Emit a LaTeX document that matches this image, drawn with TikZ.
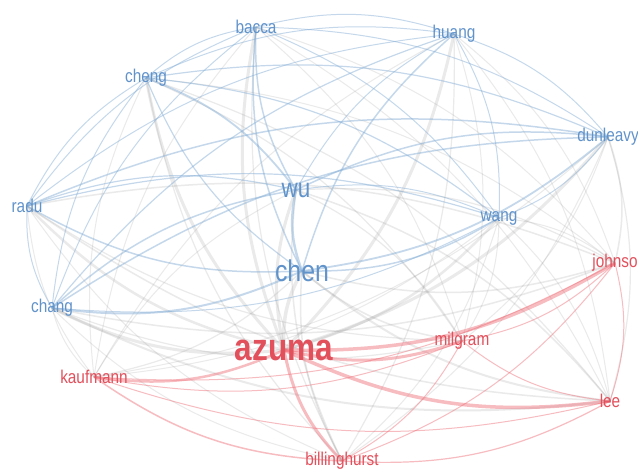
\documentclass[tikz,border=0pt]{standalone}
\usepackage{fontspec}
\setmainfont{Liberation Sans}[FakeStretch=0.83]
\usetikzlibrary{calc,backgrounds}
\definecolor{vosblue}{HTML}{6193CB}
\definecolor{vosred}{HTML}{E2505C}
\definecolor{blueline}{HTML}{7FAAD4}
\definecolor{redline}{HTML}{EE6B75}
\definecolor{greyline}{HTML}{8C8C8C}

\tikzset{
  lab/.style={inner sep=0pt, font=\fontsize{18.5}{20}\selectfont},
  bluelab/.style={lab, text=vosblue},
  redlab/.style={lab, text=vosred},
  blueedge/.style={draw=blueline, draw opacity=0.45},
  rededge/.style={draw=redline, draw opacity=0.45},
  greyedge/.style={draw=greyline, draw opacity=0.18},
}

\begin{document}
\begin{tikzpicture}[x=1pt, y=-1pt]
\useasboundingbox (0,0) rectangle (638,471);
\coordinate (mapmid) at (320,244);

% blue cluster
\node[bluelab] (bacca) at (256,27) {bacca};
\node[bluelab] (cheng) at (146,78) {cheng};
\node[bluelab] (huang) at (454,34) {huang};
\node[bluelab] (dunleavy) at (608,137) {dunleavy};
\node[bluelab] (radu) at (27,206) {radu};
\node[bluelab, font=\fontsize{27}{29}\selectfont] (wu) at (296,190) {wu};
\node[bluelab] (wang) at (499,218) {wang};
\node[bluelab, font=\fontsize{30}{32}\selectfont] (chen) at (302,271) {chen};
\node[bluelab] (chang) at (52,308) {chang};

% red cluster
\node[redlab] (johnso) at (615,263) {johnso};
\node[redlab] (milgram) at (462,341) {milgram};
\node[redlab, font=\fontsize{38}{40}\selectfont\bfseries] (azuma) at (284,350) {azuma};
\node[redlab] (kaufmann) at (94,377) {kaufmann};
\node[redlab] (lee) at (610,401) {lee};
\node[redlab] (billinghurst) at (342,461) {billinghurst};

\begin{scope}[on background layer]
\fill[white] (0,0) rectangle (638,471);
% links between clusters
\foreach \a/\b/\w in {bacca/azuma/3, cheng/azuma/3, huang/azuma/3, dunleavy/azuma/3,
    radu/azuma/2.5, wu/azuma/3, wang/azuma/2.5, chen/azuma/3.5, chang/azuma/3,
    bacca/johnso/1, bacca/milgram/1, bacca/kaufmann/1, bacca/lee/1, bacca/billinghurst/1.2,
    cheng/johnso/1, cheng/milgram/1.2, cheng/kaufmann/1, cheng/lee/1.2, cheng/billinghurst/1.2,
    huang/johnso/1, huang/milgram/1, huang/kaufmann/1, huang/lee/1, huang/billinghurst/1.2,
    dunleavy/johnso/1.5, dunleavy/milgram/1, dunleavy/kaufmann/1, dunleavy/lee/1.2, dunleavy/billinghurst/1,
    radu/johnso/1.5, radu/milgram/1.2, radu/kaufmann/1, radu/lee/1.5, radu/billinghurst/1,
    wu/johnso/1.2, wu/milgram/1.2, wu/kaufmann/1, wu/lee/1.5, wu/billinghurst/1.5,
    wang/johnso/1, wang/milgram/1, wang/kaufmann/1, wang/lee/1, wang/billinghurst/1,
    chen/johnso/1.5, chen/milgram/1.5, chen/kaufmann/1.2, chen/lee/2, chen/billinghurst/1.5,
    chang/johnso/1.5, chang/milgram/1.2, chang/kaufmann/1, chang/lee/2, chang/billinghurst/1}
  \draw[greyedge, line width=\w pt] let \p1=(\a.center), \p2=(\b.center), \p3=(mapmid),
    \n1={16*sign(((\x2-\x1)/100)*((\y1+\y2)/2-\y3)/100-((\y2-\y1)/100)*((\x1+\x2)/2-\x3)/100)}
    in (\a.center) to[bend left=\n1] (\b.center);
% blue links
\foreach \a/\b/\w in {bacca/cheng/1, bacca/huang/1, bacca/dunleavy/1, bacca/radu/1, bacca/wu/1.5,
    bacca/wang/1, bacca/chen/1.5, bacca/chang/1,
    cheng/huang/1, cheng/dunleavy/1.2, cheng/radu/1, cheng/wu/1.8, cheng/wang/1.2, cheng/chen/1.2, cheng/chang/1,
    huang/dunleavy/1, huang/radu/1, huang/wu/1, huang/wang/1, huang/chen/1.5, huang/chang/1.2,
    dunleavy/radu/1.5, dunleavy/wu/1.5, dunleavy/wang/1, dunleavy/chen/1.8, dunleavy/chang/1.5,
    radu/wu/1.2, radu/wang/1.2, radu/chen/1.5, radu/chang/1,
    wu/wang/1, wu/chen/2.5, wu/chang/1.5, wang/chen/1.5, wang/chang/1, chen/chang/2}
  \draw[blueedge, line width=\w pt] let \p1=(\a.center), \p2=(\b.center), \p3=(mapmid),
    \n1={16*sign(((\x2-\x1)/100)*((\y1+\y2)/2-\y3)/100-((\y2-\y1)/100)*((\x1+\x2)/2-\x3)/100)}
    in (\a.center) to[bend left=\n1] (\b.center);
% red links
\foreach \a/\b/\w in {azuma/johnso/3.5, azuma/lee/3.5, azuma/milgram/3, azuma/kaufmann/2.5, azuma/billinghurst/3,
    johnso/milgram/1, johnso/lee/1, johnso/kaufmann/1, johnso/billinghurst/1,
    milgram/lee/1, milgram/kaufmann/1, milgram/billinghurst/1,
    kaufmann/lee/1, kaufmann/billinghurst/1.5, lee/billinghurst/1.2}
  \draw[rededge, line width=\w pt] let \p1=(\a.center), \p2=(\b.center), \p3=(mapmid),
    \n1={16*sign(((\x2-\x1)/100)*((\y1+\y2)/2-\y3)/100-((\y2-\y1)/100)*((\x1+\x2)/2-\x3)/100)}
    in (\a.center) to[bend left=\n1] (\b.center);
\end{scope}
\end{tikzpicture}
\end{document}
